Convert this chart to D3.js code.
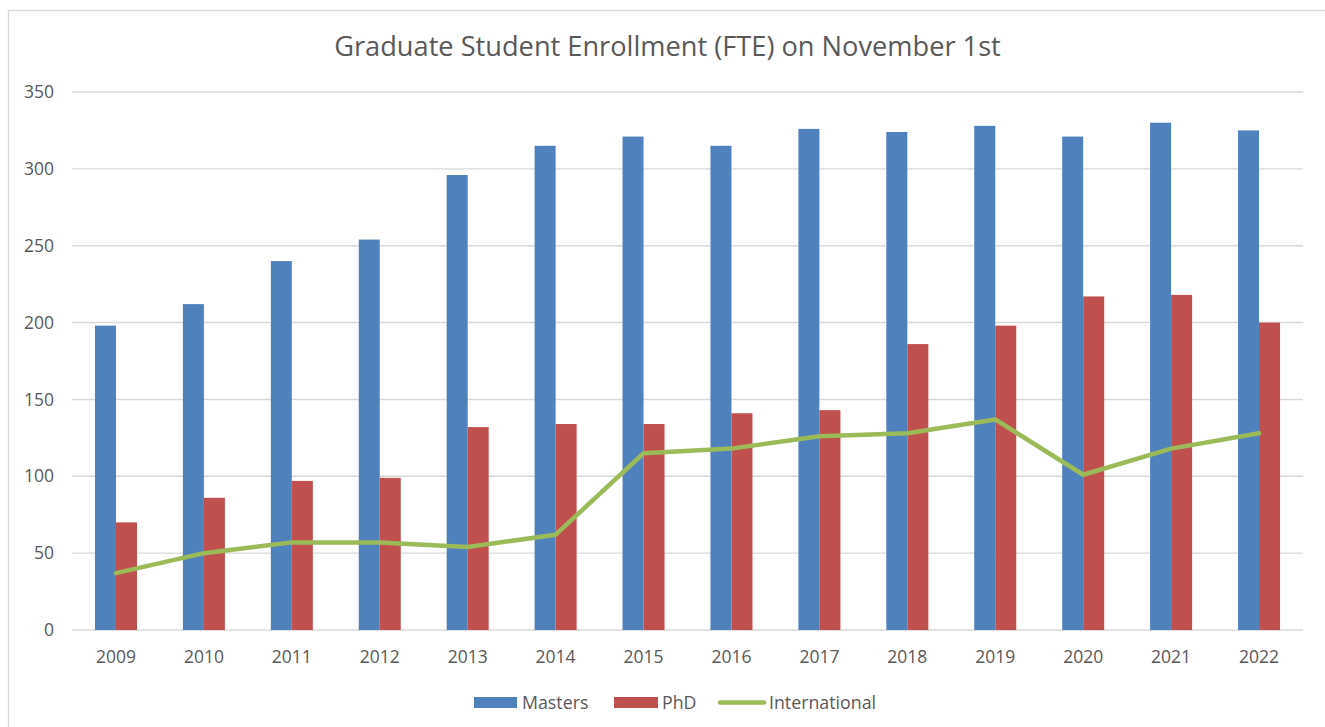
<!DOCTYPE html>
<html>
<head>
<meta charset="utf-8">
<script src="https://cdn.jsdelivr.net/npm/d3@7"></script>
<style>
  body { margin: 0; background: #fff; }
  text { font-family: "Open Sans", "Noto Sans", sans-serif; fill: #595959; }
</style>
</head>
<body>
<div id="main_div"></div>
<script>
var years = ["2009", "2010", "2011", "2012", "2013", "2014", "2015", "2016", "2017", "2018", "2019", "2020", "2021", "2022"];
var masters = [198, 212, 240, 254, 296, 315, 321, 315, 326, 324, 328, 321, 330, 325];
var phd = [70, 86, 97, 99, 132, 134, 134, 141, 143, 186, 198, 217, 218, 200];
var international = [37, 50, 57, 57, 54, 62, 115, 118, 126, 128, 137, 101, 118, 128];
var y_ticks = [0, 50, 100, 150, 200, 250, 300, 350];
var series = ["Masters", "PhD"];
var colors = { Masters: "#4F81BD", PhD: "#C0504D", International: "#9BBB59" };

var W = 1325, H = 727;
var svg = d3.select("#main_div").append("svg").attr("width", W).attr("height", H);

// chart border
svg.append("rect").attr("x", 8.5).attr("y", 10.5).attr("width", W).attr("height", H)
    .attr("fill", "none").attr("stroke", "#d9d9d9").attr("stroke-width", 1.3);

var x_scale = d3.scaleBand().domain(years).range([72, 1303]);
var y_scale = d3.scaleLinear().domain([0, 350]).range([630, 92]);
var bw = x_scale.bandwidth();
var x_sub = d3.scaleBand().domain(series).range([bw / 2 - 21, bw / 2 + 21]);

// gridlines
svg.append("g").selectAll("line").data(y_ticks).enter().append("line")
    .attr("x1", 72).attr("x2", 1303)
    .attr("y1", function(d) { return y_scale(d); })
    .attr("y2", function(d) { return y_scale(d); })
    .attr("stroke", "#d9d9d9").attr("stroke-width", 1.4);

// y axis labels
var g_y = svg.append("g").attr("transform", "translate(54,0)")
    .call(d3.axisLeft(y_scale).tickValues(y_ticks).tickSize(0).tickPadding(0));
g_y.select(".domain").remove();
g_y.selectAll("text").style("font-size", "17.5px").attr("fill", "#595959");

// x axis labels
var g_x = svg.append("g").attr("transform", "translate(0,641)")
    .call(d3.axisBottom(x_scale).tickSize(0).tickPadding(10));
g_x.select(".domain").remove();
g_x.selectAll("text").style("font-size", "17.5px").attr("fill", "#595959");

// bars
var rows = years.map(function(y, i) {
    return { year: y, values: [{ key: "Masters", v: masters[i] }, { key: "PhD", v: phd[i] }] };
});
var grp = svg.append("g").selectAll("g").data(rows).enter().append("g")
    .attr("transform", function(d) { return "translate(" + x_scale(d.year) + ",0)"; });
grp.selectAll("rect").data(function(d) { return d.values; }).enter().append("rect")
    .attr("x", function(d) { return x_sub(d.key); })
    .attr("width", x_sub.bandwidth())
    .attr("y", function(d) { return y_scale(d.v); })
    .attr("height", function(d) { return y_scale(0) - y_scale(d.v); })
    .attr("fill", function(d) { return colors[d.key]; });

// international line
var line = d3.line()
    .x(function(d, i) { return x_scale(years[i]) + bw / 2; })
    .y(function(d) { return y_scale(d); });
svg.append("path").datum(international)
    .attr("d", line)
    .attr("fill", "none")
    .attr("stroke", colors.International)
    .attr("stroke-width", 4.5)
    .attr("stroke-linejoin", "round")
    .attr("stroke-linecap", "round");

// title
var title = svg.append("text").attr("x", 667.5).attr("y", 56)
    .attr("text-anchor", "middle").style("font-size", "24px")
    .text("Graduate Student Enrollment (FTE) on November 1st");
var tl = title.node().getComputedTextLength();
title.style("font-size", (24 * 667 / tl) + "px");

// legend
var lg = svg.append("g");
lg.append("rect").attr("x", 474).attr("y", 697).attr("width", 43).attr("height", 11).attr("fill", colors.Masters);
lg.append("text").attr("x", 522).attr("y", 709).style("font-size", "17.8px").text("Masters");
lg.append("rect").attr("x", 614).attr("y", 697).attr("width", 44).attr("height", 11).attr("fill", colors.PhD);
lg.append("text").attr("x", 662).attr("y", 709).style("font-size", "17.8px").text("PhD");
lg.append("line").attr("x1", 720).attr("x2", 764).attr("y1", 702.5).attr("y2", 702.5)
    .attr("stroke", colors.International).attr("stroke-width", 4.5).attr("stroke-linecap", "round");
lg.append("text").attr("x", 769).attr("y", 709).style("font-size", "17.8px").text("International");
</script>
</body>
</html>
